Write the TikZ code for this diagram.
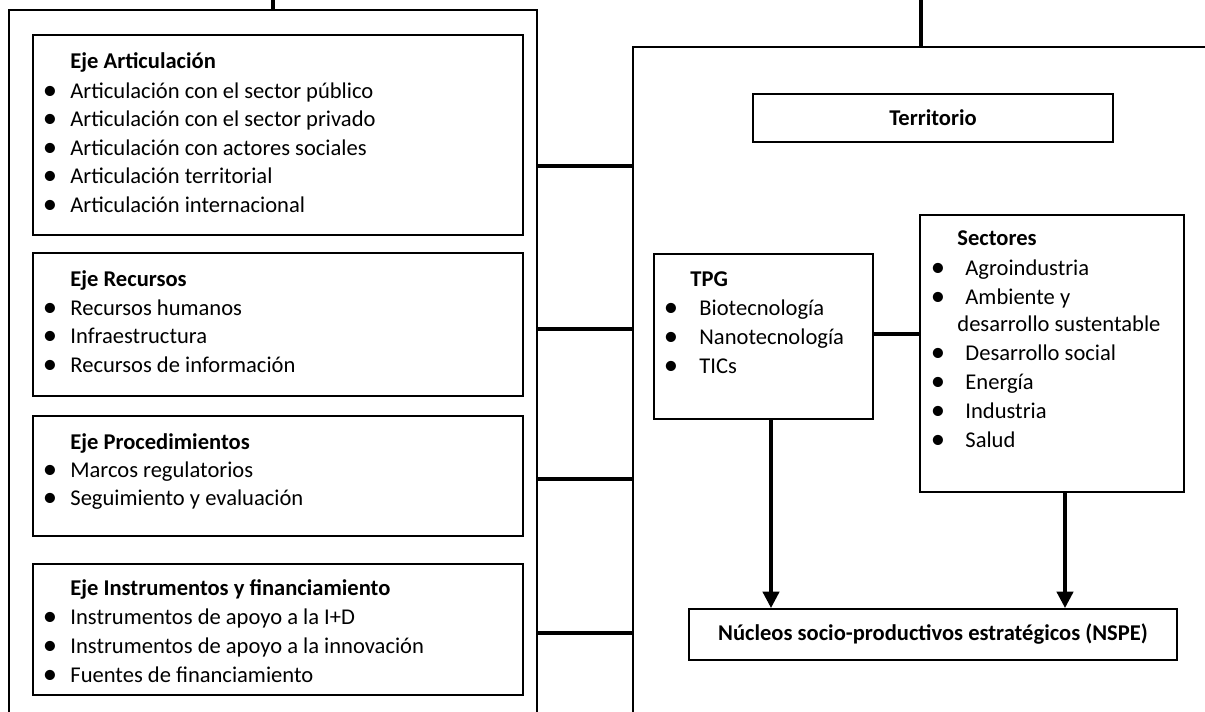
\documentclass[tikz,border=0pt]{standalone}
\usepackage{fontspec}
\setmainfont{Carlito}
\usetikzlibrary{arrows.meta,fit}

\tikzset{
  box/.style={draw, line width=1pt, inner sep=0pt},
  frame/.style={draw, line width=1.3pt, inner sep=0pt},
  conn/.style={line width=1.6pt},
  arr/.style={line width=1.6pt, -{Triangle[length=8pt,width=8pt]}},
  txt/.style={anchor=base west, inner sep=0pt, font=\fontsize{11}{14}\selectfont},
  ttl/.style={txt, font=\fontsize{11}{14}\selectfont\bfseries},
  bul/.style={anchor=base, inner sep=0pt, font=\fontsize{14}{14}\selectfont},
}

\begin{document}
\begin{tikzpicture}[x=0.4878pt, y=-0.4878pt]
\clip (0,0) rectangle (1205,711);

% frames
\node[frame, fit={(9,10) (537,760)}] (lout) {};
\node[frame, fit={(633,47) (1260,760)}] (rout) {};
\coordinate (topL) at (273,0);
\coordinate (topR) at (921,0);
\draw[conn] (topL) -- (topL |- lout.north);
\draw[conn] (topR) -- (topR |- rout.north);

% ejes
\node[box, fit={(33,35) (523,235)}] (art) {};
\node[ttl] (tart) at (70,68) {Eje Articulación};
\foreach \t [count=\i] in {Articulación con el sector público, Articulación con el sector privado, Articulación con actores sociales, Articulación territorial, Articulación internacional} {
  \node[bul] (bart\i) at (50, {99+28.5*(\i-1)}) {\textbullet};
  \node[txt] (art\i) at (70, {98+28.5*(\i-1)}) {\t};
}

\node[box, fit={(33,253) (523,396)}] (rec) {};
\node[ttl] (trec) at (70,286) {Eje Recursos};
\foreach \t [count=\i] in {Recursos humanos, Infraestructura, Recursos de información} {
  \node[bul] (brec\i) at (50, {316+28.5*(\i-1)}) {\textbullet};
  \node[txt] (rec\i) at (70, {315+28.5*(\i-1)}) {\t};
}

\node[box, fit={(33,416) (523,536)}] (proc) {};
\node[ttl] (tproc) at (70,449) {Eje Procedimientos};
\foreach \t [count=\i] in {Marcos regulatorios, Seguimiento y evaluación} {
  \node[bul] (bproc\i) at (50, {478+28.5*(\i-1)}) {\textbullet};
  \node[txt] (proc\i) at (70, {477+28.5*(\i-1)}) {\t};
}

\node[box, fit={(33,564) (523,695)}] (inst) {};
\node[ttl] (tinst) at (70,595) {Eje Instrumentos y financiamiento};
\foreach \t [count=\i] in {Instrumentos de apoyo a la I+D, Instrumentos de apoyo a la innovación, Fuentes de financiamiento} {
  \node[bul] (binst\i) at (50, {625+29*(\i-1)}) {\textbullet};
  \node[txt] (inst\i) at (70, {624+29*(\i-1)}) {\t};
}

\foreach \y in {166,329,479,633} {
  \draw[conn] (lout.east |- 0,\y) -- (rout.west |- 0,\y);
}

% territorio
\node[box, fit={(753,94) (1113,142)}] (terr) {};
\node[font=\fontsize{11}{14}\selectfont\bfseries] (tterr) at (terr.center) {Territorio};

\node[box, fit={(654,254) (873,419)}] (tpg) {};
\node[ttl] (ttpg) at (690,286) {TPG};
\foreach \t [count=\i] in {Biotecnología, Nanotecnología, TICs} {
  \node[bul] (btpg\i) at (671, {316+29*(\i-1)}) {\textbullet};
  \node[txt] (tpg\i) at (699, {315+29*(\i-1)}) {\t};
}

\node[box, fit={(920,215) (1184,492)}] (sect) {};
\node[ttl] (tsect) at (957,245) {Sectores};
\node[bul] (bsect1) at (938,276) {\textbullet};
\node[txt] (sect1) at (965,275) {Agroindustria};
\node[bul] (bsect2) at (938,305) {\textbullet};
\node[txt] (sect2) at (965,304) {Ambiente y};
\node[txt] (sect2b) at (957,331) {desarrollo sustentable};
\foreach \t [count=\i] in {Desarrollo social, Energía, Industria, Salud} {
  \node[bul] (bsectx\i) at (938, {361+29*(\i-1)}) {\textbullet};
  \node[txt] (sectx\i) at (965, {360+29*(\i-1)}) {\t};
}

\node[box, fit={(689,609) (1177,660)}] (nspe) {};
\node[font=\fontsize{11}{14}\selectfont\bfseries] (tnspe) at (nspe.center) {Núcleos socio-productivos estratégicos (NSPE)};

\draw[conn] (tpg.east |- 0,334) -- (sect.west |- 0,334);
\draw[arr] (tpg.south -| 771,0) -- (nspe.north -| 771,0);
\draw[arr] (sect.south -| 1065,0) -- (nspe.north -| 1065,0);

\end{tikzpicture}
\end{document}
